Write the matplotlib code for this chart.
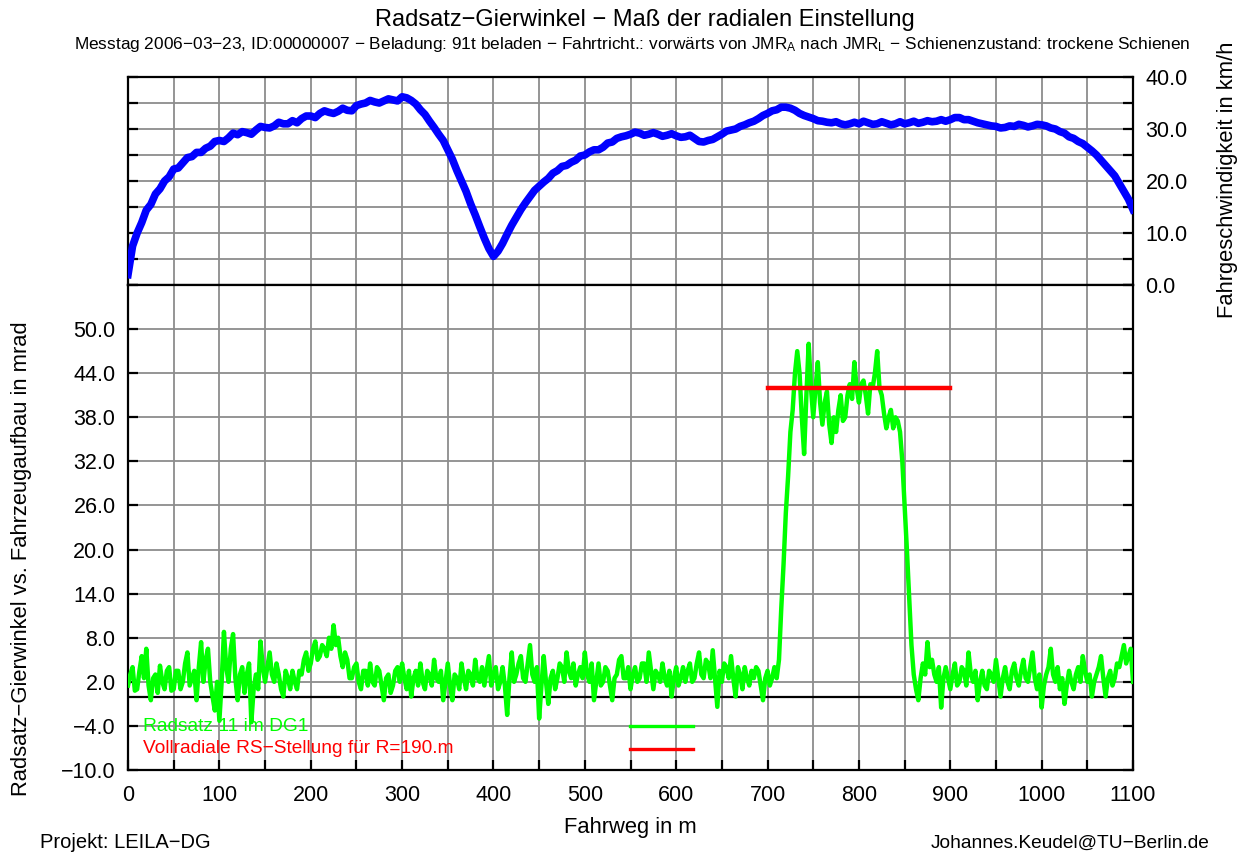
import numpy as np
import matplotlib.pyplot as plt
from matplotlib.patches import Rectangle
from matplotlib.ticker import MultipleLocator, FormatStrFormatter

plt.rcParams['font.family'] = ['Liberation Sans', 'DejaVu Sans']
plt.rcParams['mathtext.fontset'] = 'custom'
plt.rcParams['mathtext.rm'] = 'Liberation Sans'
plt.rcParams['mathtext.it'] = 'Liberation Sans'

# Fahrweg sampling: main readings every 5 m (0..1100); the yaw trace also
# has a reading between each pair (2.5, 7.5, ...) for the other noise edge
step_m = 5

# Fahrgeschwindigkeit in km/h (upper panel)
speed_kmh = [
    2.0, 7.5, 10.0, 12.0, 14.4, 15.5, 17.5, 18.5, 20.0, 20.8,      # 0
    22.3, 22.5, 23.5, 24.5, 24.7, 25.5, 25.5, 26.3, 26.7, 27.6,    # 50
    27.8, 27.6, 28.3, 29.2, 28.9, 29.5, 29.3, 29.0, 29.8, 30.5,    # 100
    30.3, 30.2, 30.6, 31.3, 31.0, 31.0, 31.6, 31.2, 32.0, 32.5,    # 150
    32.5, 32.2, 33.0, 33.5, 33.2, 33.0, 33.4, 34.0, 33.6, 33.5,    # 200
    34.5, 34.8, 35.0, 35.5, 35.2, 35.0, 35.4, 35.8, 35.6, 35.4,    # 250
    36.2, 36.0, 35.5, 34.8, 33.7, 32.8, 31.5, 30.3, 29.0, 27.8,    # 300
    26.0, 24.2, 22.0, 20.0, 18.0, 15.6, 13.5, 11.2, 9.0, 7.0,      # 350
    5.5, 6.5, 8.0, 9.8, 11.5, 13.0, 14.5, 15.8, 17.0, 18.2,        # 400
    19.0, 19.8, 20.5, 21.5, 22.0, 22.8, 23.0, 23.6, 24.0, 24.8,    # 450
    25.0, 25.6, 26.0, 26.0, 26.5, 27.3, 27.5, 28.2, 28.5, 28.7,    # 500
    29.0, 29.4, 29.2, 28.8, 29.0, 29.3, 29.0, 28.6, 28.8, 29.1,    # 550
    28.7, 28.4, 28.5, 28.8, 28.2, 27.6, 27.5, 27.8, 28.0, 28.5,    # 600
    29.0, 29.6, 29.8, 30.0, 30.5, 30.8, 31.2, 31.5, 32.0, 32.6,    # 650
    33.0, 33.5, 33.7, 34.2, 34.2, 34.0, 33.6, 33.0, 32.6, 32.3,    # 700
    32.0, 31.6, 31.5, 31.3, 31.2, 31.4, 31.0, 30.8, 31.0, 31.3,    # 750
    31.0, 31.5, 31.2, 30.9, 31.0, 31.4, 31.1, 30.8, 31.0, 31.4,    # 800
    31.0, 31.2, 31.5, 31.1, 31.3, 31.6, 31.4, 31.5, 31.8, 31.5,    # 850
    31.8, 32.2, 32.2, 31.8, 31.8, 31.5, 31.2, 31.0, 30.8, 30.6,    # 900
    30.5, 30.2, 30.3, 30.6, 30.5, 30.9, 30.7, 30.4, 30.6, 30.9,    # 950
    30.8, 30.6, 30.2, 30.0, 29.5, 29.2, 28.5, 28.2, 27.6, 27.2,    # 1000
    26.5, 25.8, 25.0, 24.0, 23.0, 22.0, 21.0, 19.5, 18.0, 16.5,    # 1050
    14.5,                                                          # 1100
]

# Radsatz-Gierwinkel in mrad (lower panel, Radsatz 11 im DG1)
yaw_mrad = [
    1.5, 4.0, 1.0, 5.5, 6.5, -0.5, 3.0, 4.2, 1.0, 4.0,             # 0
    1.0, 3.5, 2.0, 6.0, 2.5, -0.5, 7.4, 5.0, 2.0, -1.9,            # 50
    -3.3, 8.8, 2.0, 8.5, -0.5, 4.0, 3.0, -3.5, 3.0, 7.5,           # 100
    2.0, 6.0, 2.0, 3.0, 0.0, 2.5, 3.5, 1.0, 3.0, 6.0,              # 150
    4.5, 7.5, 5.5, 6.5, 8.0, 9.7, 8.0, 4.0, 5.0, 2.5,              # 200
    4.5, 1.0, 3.5, 4.5, 1.5, 3.5, -0.5, 3.0, 1.5, 4.0,             # 250
    4.5, 1.0, 0.0, 3.5, 4.5, 1.0, 3.0, 5.0, 2.0, -0.5,             # 300
    4.5, -0.5, 2.5, 4.5, 1.0, 3.0, 5.0, 2.0, 1.5, 5.5,             # 350
    3.0, 1.0, 4.0, -2.5, 6.0, 3.0, 5.5, 2.0, 7.0, 2.0,             # 400
    -3.0, 5.5, -1.0, 3.5, 2.5, 4.0, 6.0, 2.5, 1.5, 4.0,            # 450
    6.0, 2.0, -0.5, 4.5, 2.0, 3.5, -0.5, 3.0, 5.5, 2.5,            # 500
    1.0, 4.0, 2.5, 4.5, 6.0, 1.0, 3.0, 4.5, 1.5, 0.0,              # 550
    4.0, 2.5, 2.0, 4.5, 2.5, 6.0, 2.5, 4.5, 6.3, -1.4,             # 600
    2.0, 4.0, 5.5, 0.0, 3.0, 4.0, 1.5, 2.5, 3.5, -0.5,             # 650
    3.5, 2.5, 2.5, 12.0, 25.0, 36.0, 44.0, 44.0, 33.0, 48.0,       # 700
    38.0, 45.5, 37.0, 41.5, 34.5, 36.0, 41.0, 38.0, 42.5, 45.5,    # 750
    40.0, 43.0, 38.5, 42.0, 47.0, 41.0, 36.5, 39.0, 38.0, 36.0,    # 800
    26.0, 13.5, 3.0, -0.5, 4.5, 7.4, 5.0, 2.0, -1.5, 4.0,          # 850
    1.0, 4.5, 2.0, 3.5, 6.0, 2.0, -0.5, 3.5, 1.0, 3.0,             # 900
    5.0, 0.0, 4.0, 1.0, 4.5, 1.5, 5.0, 2.0, 6.0, 1.0,              # 950
    -1.5, 3.0, 6.5, 2.0, 1.0, -1.0, 3.5, 1.0, 4.0, 5.5,            # 1000
    2.0, 0.0, 3.0, 5.5, 0.0, 3.5, 2.5, 4.0, 7.0, 5.5,              # 1050
    2.0,                                                           # 1100
]
yaw_mid = [
    3.0, 0.8, 3.5, 2.5, 1.5, 2.5, 0.5, 2.0, 3.5, 0.8,              # 2.5
    3.5, 1.0, 4.5, 1.5, 3.5, 4.0, 2.0, 6.5, 0.0, 2.0,              # 52.5
    2.0, 4.0, 6.5, 2.5, 3.0, 0.5, 4.5, 1.0, 1.0, 4.0,              # 102.5
    4.0, 3.0, 4.5, 1.0, 3.5, 1.0, 2.0, 3.5, 5.0, 3.5,              # 152.5
    6.5, 5.0, 7.0, 5.5, 6.5, 7.0, 5.5, 6.0, 2.5, 4.0,              # 202.5
    2.0, 3.5, 1.5, 2.0, 4.0, 1.5, 2.5, 0.5, 3.5, 2.0,              # 252.5
    2.5, 3.5, 2.5, 1.5, 2.0, 3.5, 1.5, 2.5, 3.5, 2.0,              # 302.5
    1.5, 3.0, 1.0, 2.5, 3.5, 1.5, 2.5, 4.0, 3.5, 1.5,              # 352.5
    4.0, 2.0, 1.5, 2.5, 2.0, 4.5, 2.5, 4.5, 3.0, 4.0,              # 402.5
    1.5, 2.0, 2.5, 1.0, 4.5, 2.0, 3.5, 4.5, 3.0, 2.5,              # 452.5
    3.0, 4.5, 2.0, 1.5, 4.0, 1.5, 2.5, 5.0, 2.5, 4.0,              # 502.5
    3.0, 2.0, 4.5, 2.0, 3.5, 3.5, 2.0, 2.5, 3.5, 2.5,              # 552.5
    1.5, 4.0, 3.5, 2.0, 4.5, 3.0, 5.0, 2.5, 2.5, 3.5,              # 602.5
    4.5, 2.5, 2.5, 4.0, 1.0, 2.5, 3.5, 4.0, 1.5, 2.5,              # 652.5
    1.5, 4.0, 5.0, 18.0, 30.0, 39.0, 47.0, 38.0, 41.0, 42.0,       # 702.5
    42.0, 40.0, 40.0, 37.0, 38.0, 39.0, 37.5, 41.0, 40.5, 42.0,    # 752.5
    42.5, 41.0, 42.5, 44.0, 42.0, 38.5, 38.0, 36.5, 37.5, 32.0,    # 802.5
    20.0, 7.0, 1.0, 2.5, 3.0, 4.0, 3.0, 4.0, 2.5, 2.5,             # 852.5
    3.0, 1.5, 4.0, 1.5, 3.0, 3.5, 2.0, 1.5, 3.5, 2.0,              # 902.5
    2.5, 2.5, 2.0, 3.5, 2.5, 3.5, 2.5, 4.0, 2.5, 3.0,              # 952.5
    1.5, 4.0, 3.0, 4.0, 2.5, 1.5, 2.0, 3.0, 2.0, 3.5,              # 1002.5
    3.0, 2.0, 4.0, 2.5, 2.5, 1.5, 4.5, 5.5, 4.5, 6.5,              # 1052.5
]

# Vollradiale RS-Stellung fuer R=190 m (reference level and its extent)
radial_x = [700, 900]
radial_y = [42.0, 42.0]

GRID = '#8c8c8c'
TICK_FS = 15.5
LABEL_FS = 15.8


def interleave(main, mid):
    """Merge the 5 m readings with the in-between readings into one trace."""
    out = np.empty(len(main) + len(mid))
    out[0::2] = main
    out[1::2] = mid
    dist = np.arange(len(out)) * step_m / 2
    return dist, out


def style_axis(ax):
    ax.set_xlim(0, 1100)
    ax.xaxis.set_major_locator(MultipleLocator(100))
    ax.xaxis.set_minor_locator(MultipleLocator(50))
    ax.grid(True, which='both', color=GRID, lw=1.3, zorder=0)
    for sp in ax.spines.values():
        sp.set_linewidth(1.6)
    ax.tick_params(which='both', direction='in', labelsize=TICK_FS, width=1.6)


dist_v = np.arange(len(speed_kmh)) * step_m
dist_w, yaw = interleave(yaw_mrad, yaw_mid)

fig = plt.figure(figsize=(12.38, 8.52), dpi=100)

# upper panel: speed
ax_v = fig.add_axes([0.1034, 0.6655, 0.8118, 0.2441])
style_axis(ax_v)
ax_v.set_ylim(0, 40)
ax_v.yaxis.set_major_locator(MultipleLocator(10))
ax_v.yaxis.set_minor_locator(MultipleLocator(5))
ax_v.yaxis.set_major_formatter(FormatStrFormatter('%.1f'))
ax_v.tick_params(axis='y', which='both', left=True, right=True,
                 labelleft=False, labelright=True, length=7, pad=9)
ax_v.tick_params(axis='x', which='both', bottom=False, top=False,
                 labelbottom=False)
ax_v.plot(dist_v, speed_kmh, color='#0000ff', lw=5.5, zorder=3)

# lower panel: yaw angle
ax_w = fig.add_axes([0.1034, 0.0962, 0.8118, 0.5693])
style_axis(ax_w)
ax_w.set_ylim(-10, 56)
ax_w.set_yticks(np.arange(-10, 57, 6))
ax_w.set_yticklabels([f'{v:.1f}'.replace('-', '\u2212') for v in np.arange(-10, 51, 6)] + [''])
ax_w.tick_params(axis='y', which='both', left=True, right=True, length=7, pad=9)
ax_w.tick_params(axis='x', which='both', bottom=True, top=False, length=7, pad=11)
ax_w.axhline(0, color='black', lw=1.6, zorder=2)

# white legend box hides the grid but not the data
ax_w.add_patch(Rectangle((0, 0), 0.563, 0.1175, transform=ax_w.transAxes,
                         facecolor='white', edgecolor='none', zorder=1))

ax_w.plot(dist_w, yaw, color='#00ff00', lw=3.2, zorder=3)
ax_w.plot(radial_x, radial_y, color='#ff0000', lw=3.2, zorder=4)

ax_w.text(0.015, 0.0907, 'Radsatz 11 im DG1', color='#00ff00', fontsize=13.8,
          va='center', transform=ax_w.transAxes, zorder=5)
ax_w.text(0.015, 0.0443, 'Vollradiale RS\u2212Stellung für R=190.m', color='#ff0000',
          fontsize=13.8, va='center', transform=ax_w.transAxes, zorder=5)
ax_w.plot([0.4995, 0.562], [0.0907, 0.0907], color='#00ff00', lw=2.4,
          transform=ax_w.transAxes, zorder=5)
ax_w.plot([0.4995, 0.562], [0.0443, 0.0443], color='#ff0000', lw=2.4,
          transform=ax_w.transAxes, zorder=5)

# titles and labels
fig.text(0.521, 1 - 20 / 852, 'Radsatz\u2212Gierwinkel \u2212 Maß der radialen Einstellung',
         ha='center', va='center', fontsize=17)
fig.text(0.5105, 1 - 45 / 852,
         'Messtag 2006\u221203\u221223, ID:00000007 \u2212 Beladung: 91t beladen \u2212 '
         'Fahrtricht.: vorwärts von JMR$_\\mathrm{A}$ nach JMR$_\\mathrm{L}$ \u2212 '
         'Schienenzustand: trockene Schienen',
         ha='center', va='center', fontsize=12.4)
fig.text(630 / 1238, 1 - 828 / 852, 'Fahrweg in m', ha='center', va='center', fontsize=LABEL_FS)
fig.text(22 / 1238, 1 - 559 / 852, 'Radsatz\u2212Gierwinkel vs. Fahrzeugaufbau in mrad',
         rotation=90, ha='center', va='center', fontsize=LABEL_FS)
fig.text(1228 / 1238, 1 - 180 / 852, 'Fahrgeschwindigkeit in km/h',
         rotation=90, ha='center', va='center', fontsize=LABEL_FS)
fig.text(40 / 1238, 1 - 843 / 852, 'Projekt: LEILA\u2212DG', ha='left', va='center', fontsize=14.5)
fig.text(1210 / 1238, 1 - 843 / 852, 'Johannes.Keudel@TU\u2212Berlin.de',
         ha='right', va='center', fontsize=13.8)

fig.savefig('out.png', dpi=100)
